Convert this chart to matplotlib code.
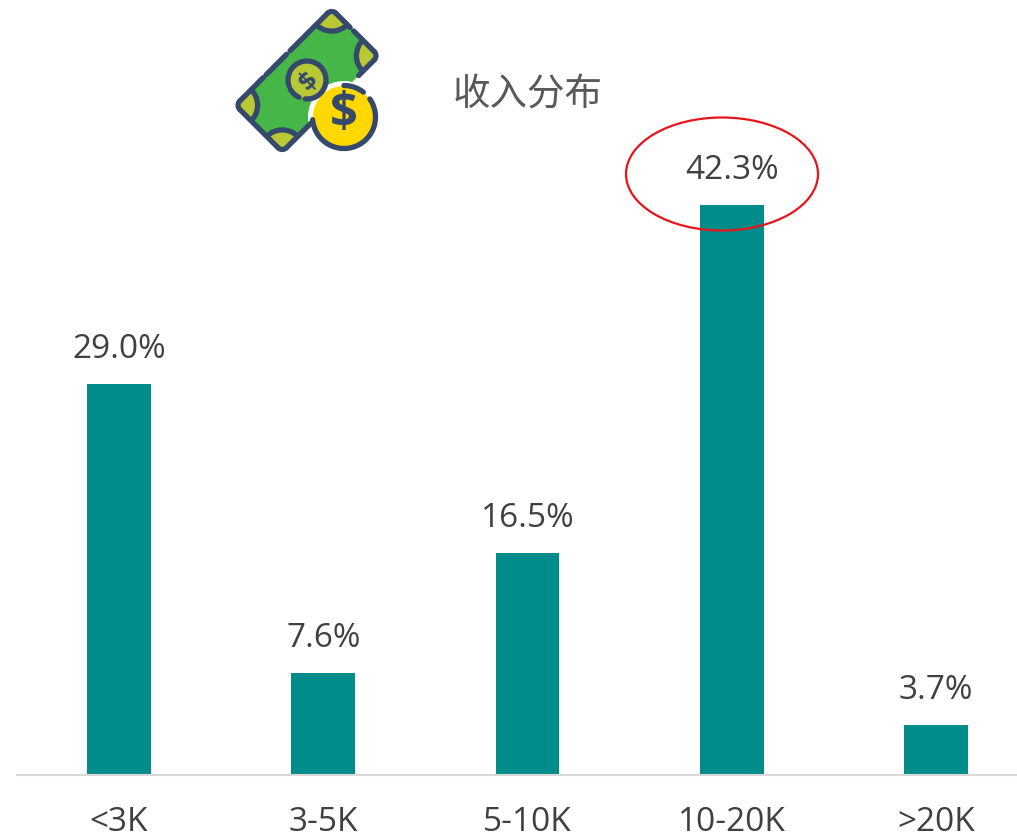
import matplotlib
matplotlib.use('Agg')
import matplotlib.pyplot as plt
import numpy as np
from matplotlib.patches import Circle, Ellipse, FancyBboxPatch
from matplotlib.transforms import Affine2D

plt.rcParams['font.family'] = ['Open Sans', 'Noto Sans CJK SC', 'DejaVu Sans']

categories = ['<3K', '3-5K', '5-10K', '10-20K', '>20K']
shares = [29.0, 7.6, 16.5, 42.3, 3.7]
title = '收入分布'

bar_color = '#008c8a'
text_color = '#404040'
navy = '#34496b'
W, H = 1017, 836

fig = plt.figure(figsize=(W / 100, H / 100), dpi=100)
ax = fig.add_axes([17 / W, 1 - 775 / H, 1000 / W, (775 - 100) / H])
ax.bar(range(len(shares)), shares, width=0.3133, color=bar_color)
ax.set_xlim(-0.4994, 4.3966)
ax.set_ylim(0, 50.1)
ax.set_yticks([])
ax.set_xticks(range(len(shares)))
ax.set_xticklabels(categories, fontsize=24, color=text_color)
ax.tick_params(axis='x', length=0, pad=22)
for side in ['top', 'left', 'right']:
    ax.spines[side].set_visible(False)
ax.spines['bottom'].set_color('#d9d9d9')
ax.spines['bottom'].set_linewidth(1.5)

for i, v in enumerate(shares):
    ax.annotate('%.1f%%' % v, (i, v), xytext=(0, 13), textcoords='offset points',
                ha='center', va='bottom', fontsize=24, color=text_color)

# overlay in pixel coordinates for the title, the circle and the icon
ov = fig.add_axes([0, 0, 1, 1])
ov.set_xlim(0, W)
ov.set_ylim(H, 0)
ov.axis('off')
ov.patch.set_alpha(0)
ov.text(528, 95, title, ha='center', va='center', fontsize=27, color='#595959',
        family='Noto Sans CJK SC')
ov.add_patch(Ellipse((722, 174), 192, 113, fill=False, ec='#e8141c', lw=1.6))


def stroke(xs, ys, **kw):
    ov.plot(xs, ys, color=navy, lw=3.8, solid_capstyle='round', **kw)


def arc(cx, cy, r, a0, a1, **kw):
    t = np.radians(np.linspace(a0, a1, 40))
    stroke(cx + r * np.cos(t), cy + r * np.sin(t), **kw)


# banknote, drawn flat and turned 45 degrees
rot = Affine2D().rotate_deg(-45).translate(307, 80.5) + ov.transData
bill = FancyBboxPatch((-68, -33), 136, 66, boxstyle='round,pad=0,rounding_size=6',
                      fc='#47b648', ec='none', transform=rot)
ov.add_patch(bill)
for cu, cv in [(-68, -33), (68, -33), (-68, 33), (68, 33)]:
    corner = Circle((cu, cv), 22, fc='#b9c936', ec=navy, lw=3.8, transform=rot)
    ov.add_patch(corner)
    corner.set_clip_path(bill)
# outline pieces, with the gaps of the original
pieces = [
    ([-68, -68], [-27, 27]),
    ([-62, -29], [-33, -33]), ([-25, 4], [-33, -33]), ([9, 62], [-33, -33]),
    ([68, 68], [-27, -7]), ([68, 68], [-2, 27]),
    ([-62, -27], [33, 33]), ([40, 62], [33, 33]),
]
for us, vs in pieces:
    stroke(us, vs, transform=rot)
for cu, cv, a0, a1 in [(62, -27, -90, 0), (62, 27, 0, 90), (-62, -27, 180, 270), (-62, 27, 90, 180)]:
    arc(cu, cv, 6, a0, a1, transform=rot)

# small coin on the note
ov.add_patch(Circle((307, 80), 18, fc='#b9c936', ec='none'))
arc(307, 80, 19, -200, 95)
arc(307, 80, 19, 115, 150)
ov.text(307, 80, '$', ha='center', va='center', fontsize=17, color=navy, rotation=45,
        fontweight='bold', family='DejaVu Sans', parse_math=False)

# big coin, white halo cuts into the note
ov.add_patch(Circle((344, 117), 36, fc='white', ec='none'))
ov.add_patch(Circle((344, 117), 31, fc='#ffd800', ec='none'))
arc(344, 117, 31.5, -35, 175)
arc(344, 117, 31.5, -90, -52)
ov.text(344, 115, '$', ha='center', va='center', fontsize=35, color=navy,
        fontweight='bold', family='Open Sans', parse_math=False)

fig.savefig('out.png', dpi=100)
